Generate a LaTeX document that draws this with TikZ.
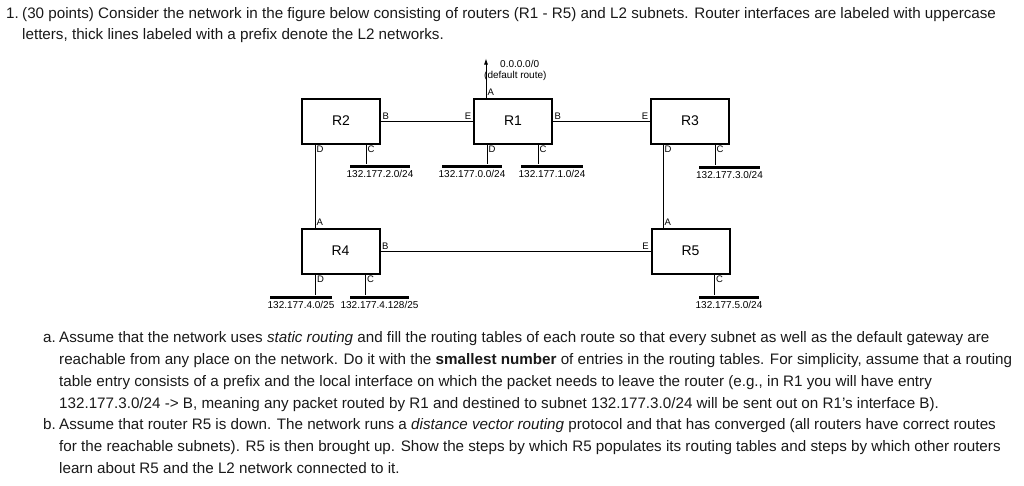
\documentclass[tikz,border=0pt]{standalone}
\usepackage{fontspec}
\setmainfont{Liberation Sans}
\usetikzlibrary{positioning,arrows.meta}
\tikzset{
  router/.style={draw, line width=2pt, minimum width=78pt, minimum height=45pt, inner sep=0pt, font=\fontsize{14}{16}\selectfont},
  link/.style={line width=0.8pt},
  lan/.style={fill=black, minimum height=3pt, inner sep=0pt},
  iface/.style={inner sep=1.5pt, font=\fontsize{9.5}{10}\selectfont},
  netlabel/.style={inner sep=1pt, font=\fontsize{10}{11}\selectfont},
  para/.style={anchor=base west, inner sep=0pt, text=black!90, font=\fontsize{15.2}{18}\selectfont}
}
\begin{document}
\begin{tikzpicture}[x=1pt,y=-1pt]
\useasboundingbox (0,0) rectangle (1024,485);
\node[para, anchor=base east] (q1) at (19,18) {1.};
\node[para] (q1a) at (22,18) {(30 points) Consider the network in the figure below consisting of routers (R1 - R5) and L2 subnets. Router interfaces are labeled with uppercase};
\node[para] (q1b) at (22,39) {letters, thick lines labeled with a prefix denote the L2 networks.};

\node[router] (R2) at (341,121) {R2};
\node[router] (R1) at (513,121) {R1};
\node[router] (R3) at (690,121) {R3};
\node[router] (R4) at (340.5,251) {R4};
\node[router] (R5) at (690.5,251) {R5};

\draw[link] (R2) -- (R1);
\draw[link] (R1) -- (R3);
\draw[link] (R4) -- (R5);
\draw[link] ([xshift=14pt]R2.south west) coordinate (r2d) -- (r2d |- R4.north) coordinate (r4a);
\draw[link] ([xshift=13pt]R3.south west) coordinate (r3d) -- (r3d |- R5.north) coordinate (r5a);
\draw[link,-{Latex[length=6pt,width=4pt]}] ([xshift=13pt]R1.north west) coordinate (r1a) -- ++(0,-39) coordinate (dflt);
\node[netlabel, anchor=west] (dfltip) at (499,64) {0.0.0.0/0};
\node[netlabel, anchor=west] (dfltxt) at (483,76) {(default route)};

\node[lan, minimum width=60pt] (n2) at (380,166) {};
\node[lan, minimum width=60pt] (n0) at (472,166) {};
\node[lan, minimum width=62pt] (n1) at (552,166) {};
\node[lan, minimum width=61pt] (n3) at (729.5,167) {};
\node[lan, minimum width=62pt] (n40) at (301,297) {};
\node[lan, minimum width=59pt] (n41) at (379.5,297) {};
\node[lan, minimum width=60pt] (n5) at (729,297) {};
\node[netlabel, below=1pt of n2] (n2t) {132.177.2.0/24};
\node[netlabel, below=1pt of n0] (n0t) {132.177.0.0/24};
\node[netlabel, below=1pt of n1] (n1t) {132.177.1.0/24};
\node[netlabel, below=1pt of n3] (n3t) {132.177.3.0/24};
\node[netlabel, below=1pt of n40] (n40t) {132.177.4.0/25};
\node[netlabel, below=1pt of n41] (n41t) {132.177.4.128/25};
\node[netlabel, below=1pt of n5] (n5t) {132.177.5.0/24};

\draw[link] ([xshift=-15pt]R2.south east) coordinate (r2c) -- (r2c |- n2.north);
\draw[link] ([xshift=14pt]R1.south west) coordinate (r1d) -- (r1d |- n0.north);
\draw[link] ([xshift=-15pt]R1.south east) coordinate (r1c) -- (r1c |- n1.north);
\draw[link] ([xshift=-15pt]R3.south east) coordinate (r3c) -- (r3c |- n3.north);
\draw[link] ([xshift=15pt]R4.south west) coordinate (r4d) -- (r4d |- n40.north);
\draw[link] ([xshift=-15pt]R4.south east) coordinate (r4c) -- (r4c |- n41.north);
\draw[link] ([xshift=-16pt]R5.south east) coordinate (r5c) -- (r5c |- n5.north);

\node[iface, anchor=south west] (R2B) at (R2.east) {B};
\node[iface, anchor=north west] (R2D) at (r2d) {D};
\node[iface, anchor=north west] (R2C) at (r2c) {C};
\node[iface, anchor=south east] (R1E) at (R1.west) {E};
\node[iface, anchor=south west] (R1A) at (r1a) {A};
\node[iface, anchor=south west] (R1B) at (R1.east) {B};
\node[iface, anchor=north west] (R1D) at (r1d) {D};
\node[iface, anchor=north west] (R1C) at (r1c) {C};
\node[iface, anchor=south east] (R3E) at (R3.west) {E};
\node[iface, anchor=north west] (R3D) at (r3d) {D};
\node[iface, anchor=north west] (R3C) at (r3c) {C};
\node[iface, anchor=south west] (R4A) at (r4a) {A};
\node[iface, anchor=south west] (R4B) at (R4.east) {B};
\node[iface, anchor=north west] (R4D) at (r4d) {D};
\node[iface, anchor=north west] (R4C) at (r4c) {C};
\node[iface, anchor=south west] (R5A) at (r5a) {A};
\node[iface, anchor=south east] (R5E) at (R5.west) {E};
\node[iface, anchor=north west] (R5C) at (r5c) {C};

\node[para] (qa) at (43,342) {a.};
\node[para] (qa1) at (59,342) {Assume that the network uses \textit{static routing} and fill the routing tables of each route so that every subnet as well as the default gateway are};
\node[para] (qa2) at (59,364) {reachable from any place on the network. Do it with the \textbf{smallest number} of entries in the routing tables. For simplicity, assume that a routing};
\node[para] (qa3) at (59,386) {table entry consists of a prefix and the local interface on which the packet needs to leave the router (e.g., in R1 you will have entry};
\node[para] (qa4) at (59,408) {132.177.3.0/24 -> B, meaning any packet routed by R1 and destined to subnet 132.177.3.0/24 will be sent out on R1's interface B).};
\node[para] (qb) at (43,429) {b.};
\node[para] (qb1) at (59,429) {Assume that router R5 is down. The network runs a \textit{distance vector routing} protocol and that has converged (all routers have correct routes};
\node[para] (qb2) at (59,451) {for the reachable subnets). R5 is then brought up. Show the steps by which R5 populates its routing tables and steps by which other routers};
\node[para] (qb3) at (59,473) {learn about R5 and the L2 network connected to it.};
\end{tikzpicture}
\end{document}
